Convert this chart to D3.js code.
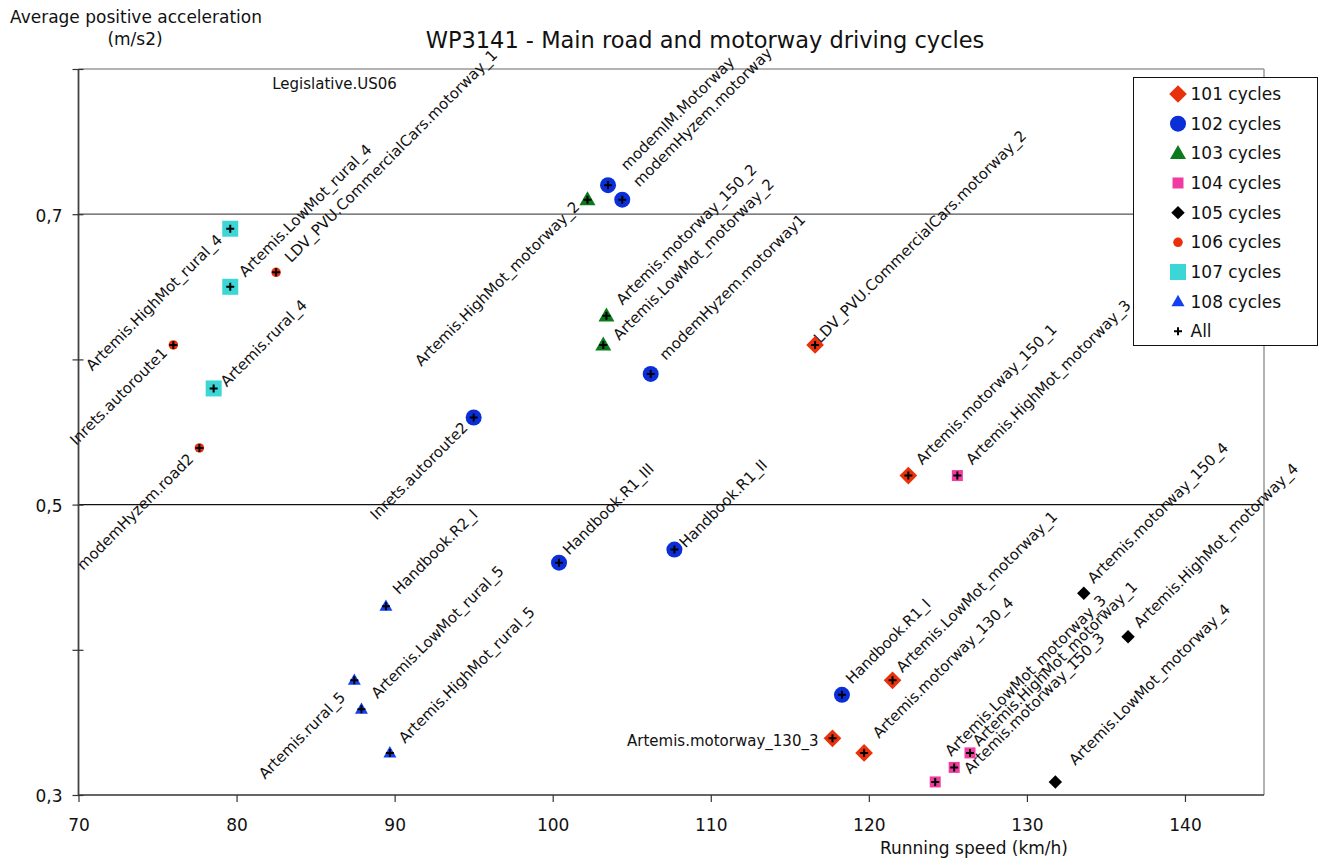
<!DOCTYPE html>
<html><head><meta charset="utf-8">
<script src="https://cdn.jsdelivr.net/npm/d3@7"></script>
<style>
html,body{margin:0;padding:0;background:#fff;}
svg{display:block;font-family:"DejaVu Sans",Verdana,sans-serif;}
</style></head>
<body><svg id="c" width="1326" height="861"></svg>
<script>
// ---------- DATA ----------
const seriesNames = ["101 cycles","102 cycles","103 cycles","104 cycles","105 cycles","106 cycles","107 cycles","108 cycles"];

const s101_names = ["LDV_PVU.CommercialCars.motorway_2","Artemis.motorway_150_1","Artemis.LowMot_motorway_1","Artemis.motorway_130_3","Artemis.motorway_130_4"];
const s101_x = [116.6, 122.5, 121.5, 117.7, 119.7];
const s101_y = [0.610, 0.520, 0.379, 0.339, 0.329];

const s102_names = ["modemIM.Motorway","modemHyzem.motorway","modemHyzem.motorway1","Inrets.autoroute2","Handbook.R1_III","Handbook.R1_II","Handbook.R1_I"];
const s102_x = [103.5, 104.4, 106.2, 95.0, 100.4, 107.7, 118.3];
const s102_y = [0.720, 0.710, 0.590, 0.560, 0.460, 0.469, 0.369];

const s103_names = ["Artemis.HighMot_motorway_2","Artemis.motorway_150_2","Artemis.LowMot_motorway_2"];
const s103_x = [102.2, 103.4, 103.2];
const s103_y = [0.710, 0.630, 0.610];

const s104_names = ["Artemis.HighMot_motorway_3","Artemis.HighMot_motorway_1","Artemis.motorway_150_3","Artemis.LowMot_motorway_3"];
const s104_x = [125.6, 126.4, 125.4, 124.2];
const s104_y = [0.520, 0.329, 0.319, 0.309];

const s105_names = ["Artemis.motorway_150_4","Artemis.HighMot_motorway_4","Artemis.LowMot_motorway_4"];
const s105_x = [133.6, 136.4, 131.8];
const s105_y = [0.439, 0.409, 0.309];

const s106_names = ["Inrets.autoroute1","LDV_PVU.CommercialCars.motorway_1","modemHyzem.road2"];
const s106_x = [76.0, 82.5, 77.65];
const s106_y = [0.610, 0.660, 0.539];

const s107_names = ["Artemis.HighMot_rural_4","Artemis.LowMot_rural_4","Artemis.rural_4"];
const s107_x = [79.6, 79.6, 78.55];
const s107_y = [0.690, 0.650, 0.580];

const s108_names = ["Handbook.R2_I","Artemis.rural_5","Artemis.LowMot_rural_5","Artemis.HighMot_rural_5"];
const s108_x = [89.45, 87.45, 87.9, 89.7];
const s108_y = [0.430, 0.379, 0.359, 0.329];

const xTicks = [70, 80, 90, 100, 110, 120, 130, 140];
const yTicks = [0.3, 0.4, 0.5, 0.6, 0.7, 0.8];
const yTickLabels = ["0,3", "", "0,5", "", "0,7", ""];
const yGrid = [0.5, 0.7];
const annotationText = "Legislative.US06";
const annotationX = 86.2, annotationY = 0.786;

// ---------- LAYOUT / STYLE ----------
const W = 1326, H = 861;
const plot = {left: 78.5, right: 1264, top: 69, bottom: 795};

const styles = [
  {shape:"diamond", size:12.5, color:"#e8320c"},
  {shape:"circle",  size:16,   color:"#0a2fd8"},
  {shape:"triangle",size:16,   color:"#0a7a1a"},
  {shape:"square",  size:11,   color:"#f03ca0"},
  {shape:"diamond", size:9.5,  color:"#000000"},
  {shape:"circle",  size:9.5,  color:"#e8300c"},
  {shape:"square",  size:16,   color:"#3cd6d6"},
  {shape:"triangle",size:13,   color:"#1440f0"}
];

// label placement: [anchor, dx, dy, rotated]
const labelPlace = {
  "Artemis.HighMot_rural_4": ["end",-7,12,true],
  "Artemis.LowMot_rural_4": ["start",15,-9,true],
  "LDV_PVU.CommercialCars.motorway_1": ["start",15,-9,true],
  "Inrets.autoroute1": ["end",-5,9,true],
  "Artemis.rural_4": ["start",13,-1,true],
  "modemHyzem.road2": ["end",-5,12,true],
  "Inrets.autoroute2": ["end",-5,11,true],
  "Artemis.HighMot_motorway_2": ["end",-7,8,true],
  "modemIM.Motorway": ["start",19,-14,true],
  "modemHyzem.motorway": ["start",17,-12,true],
  "Artemis.motorway_150_2": ["start",16,-10,true],
  "Artemis.LowMot_motorway_2": ["start",16,-4,true],
  "modemHyzem.motorway1": ["start",15,-13,true],
  "LDV_PVU.CommercialCars.motorway_2": ["start",5,-1,true],
  "Artemis.motorway_150_1": ["start",14,-10,true],
  "Artemis.HighMot_motorway_3": ["start",15,-10,true],
  "Handbook.R2_I": ["start",13,-11,true],
  "Handbook.R1_III": ["start",10,-7,true],
  "Handbook.R1_II": ["start",11,-1,true],
  "Artemis.LowMot_rural_5": ["start",16,-10,true],
  "Artemis.rural_5": ["end",-8,18,true],
  "Artemis.HighMot_rural_5": ["start",15,-9,true],
  "Handbook.R1_I": ["start",10,-10,true],
  "Artemis.LowMot_motorway_1": ["start",10,-7,true],
  "Artemis.motorway_130_3": ["end",-14,8,false],
  "Artemis.motorway_130_4": ["start",15,-14,true],
  "Artemis.LowMot_motorway_3": ["start",16,-25,true],
  "Artemis.HighMot_motorway_1": ["start",9,-6,true],
  "Artemis.motorway_150_3": ["start",16,7,true],
  "Artemis.motorway_150_4": ["start",10,-9,true],
  "Artemis.HighMot_motorway_4": ["start",12,-8,true],
  "Artemis.LowMot_motorway_4": ["start",20,-16,true]
};

// ---------- BUILD ----------
const seriesData = [
  [s101_names,s101_x,s101_y],[s102_names,s102_x,s102_y],[s103_names,s103_x,s103_y],
  [s104_names,s104_x,s104_y],[s105_names,s105_x,s105_y],[s106_names,s106_x,s106_y],
  [s107_names,s107_x,s107_y],[s108_names,s108_x,s108_y]
].map((arr,i)=>arr[0].map((n,j)=>({name:n, x:arr[1][j], y:arr[2][j], s:i})));
const allPoints = seriesData.flat();

const x = d3.scaleLinear().domain([70,145]).range([plot.left, plot.right]);
const y = d3.scaleLinear().domain([0.3,0.8]).range([plot.bottom, plot.top]);

const svg = d3.select("#c");

function shapePath(st){
  const s = st.size;
  if (st.shape==="circle") return d3.symbol(d3.symbolCircle, Math.PI*(s/2)*(s/2))();
  if (st.shape==="square") return d3.symbol(d3.symbolSquare, s*s)();
  if (st.shape==="diamond") { const r=s/Math.SQRT2; return `M0,${-r}L${r},0L0,${r}L${-r},0Z`; }
  if (st.shape==="triangle") { const w=s, h=s*0.87; return `M0,${-h*0.6}L${w/2},${h*0.4}L${-w/2},${h*0.4}Z`; }
}

// gridlines & borders
svg.append("g").selectAll("line").data(yGrid).join("line")
  .attr("x1", plot.left).attr("x2", plot.right)
  .attr("y1", d=>y(d)).attr("y2", d=>y(d))
  .attr("stroke", (d,i)=> i===0 ? "#111" : "#555").attr("stroke-width",1.3);
svg.append("line").attr("x1",plot.left).attr("x2",plot.right).attr("y1",plot.top).attr("y2",plot.top)
  .attr("stroke","#999").attr("stroke-width",1.5);
svg.append("line").attr("x1",plot.right).attr("x2",plot.right).attr("y1",plot.top).attr("y2",plot.bottom)
  .attr("stroke","#999").attr("stroke-width",1.5);

// axes
const xAxis = d3.axisBottom(x).tickValues(xTicks).tickSize(7).tickPadding(17).tickFormat(d3.format("d"));
const gx = svg.append("g").attr("transform",`translate(0,${plot.bottom})`).call(xAxis);
gx.select(".domain").attr("stroke","#333").attr("stroke-width",1.6).attr("d",`M${plot.left},0H${plot.right}`);
gx.selectAll(".tick line").attr("stroke","#333").attr("stroke-width",1.2);
gx.selectAll("text").attr("font-size",17).attr("fill","#111").attr("font-family","DejaVu Sans");

const yAxis = d3.axisLeft(y).tickValues(yTicks).tickSize(6).tickPadding(10).tickFormat((d,i)=>yTickLabels[i]);
const gy = svg.append("g").attr("transform",`translate(${plot.left},0)`).call(yAxis);
gy.select(".domain").attr("stroke","#444").attr("stroke-width",1.8).attr("d",`M0,${plot.bottom}V${plot.top}`);
gy.selectAll(".tick line").attr("x1",5).attr("stroke","#333").attr("stroke-width",1.2);
gy.selectAll("text").attr("font-size",17).attr("fill","#111").attr("font-family","DejaVu Sans").attr("dy","0.4em");

// titles
svg.append("text").attr("x",705).attr("y",48).attr("text-anchor","middle")
  .attr("font-size",22.5).attr("fill","#111").text("WP3141 - Main road and motorway driving cycles");
svg.append("text").attr("x",10).attr("y",23).attr("font-size",17).attr("fill","#111").text("Average positive acceleration");
svg.append("text").attr("x",135).attr("y",45).attr("text-anchor","middle").attr("font-size",17).attr("fill","#111").text("(m/s2)");
svg.append("text").attr("x",880).attr("y",854).attr("font-size",17).attr("fill","#111").text("Running speed (km/h)");

// annotation
svg.append("text").attr("x",x(annotationX)).attr("y",y(annotationY)).attr("text-anchor","middle")
  .attr("font-size",15).attr("fill","#111").text(annotationText);

// labels
const lab = svg.append("g").attr("font-size",15).attr("fill","#111");
allPoints.forEach(p=>{
  const lp = labelPlace[p.name] || ["start",12,-11,true];
  const tx = x(p.x)+lp[1], ty = y(p.y)+lp[2];
  lab.append("text").attr("text-anchor",lp[0])
    .attr("transform",`translate(${tx},${ty})` + (lp[3] ? " rotate(-45)" : ""))
    .text(p.name);
});

// markers
const mk = svg.append("g");
mk.selectAll("path.m").data(allPoints).join("path").attr("class","m")
  .attr("transform",d=>`translate(${x(d.x)},${y(d.y)})`)
  .attr("d",d=>shapePath(styles[d.s])).attr("fill",d=>styles[d.s].color);

// "All" plus marks
const plusPath = "M-4,0H4M0,-4V4";
mk.selectAll("path.p").data(allPoints).join("path").attr("class","p")
  .attr("transform",d=>`translate(${x(d.x)},${y(d.y)})`)
  .attr("d",plusPath).attr("stroke","#000").attr("stroke-width",2).attr("fill","none");

// legend
const lg = svg.append("g");
lg.append("rect").attr("x",1133.5).attr("y",77.5).attr("width",184).attr("height",268)
  .attr("fill","#fff").attr("stroke","#111").attr("stroke-width",1);
const legendItems = seriesNames.concat(["All"]);
const ly = d3.scalePoint().domain(legendItems).range([94, 331.3]);
legendItems.forEach((name,i)=>{
  const cy = ly(name);
  if (i < styles.length) {
    lg.append("path").attr("transform",`translate(1178,${cy})`).attr("d",shapePath(styles[i])).attr("fill",styles[i].color);
  } else {
    lg.append("path").attr("transform",`translate(1178,${cy})`).attr("d",plusPath).attr("stroke","#000").attr("stroke-width",2);
  }
  lg.append("text").attr("x",1190.5).attr("y",cy).attr("dy","0.36em").attr("font-size",17).attr("fill","#111").text(name);
});
</script></body></html>
